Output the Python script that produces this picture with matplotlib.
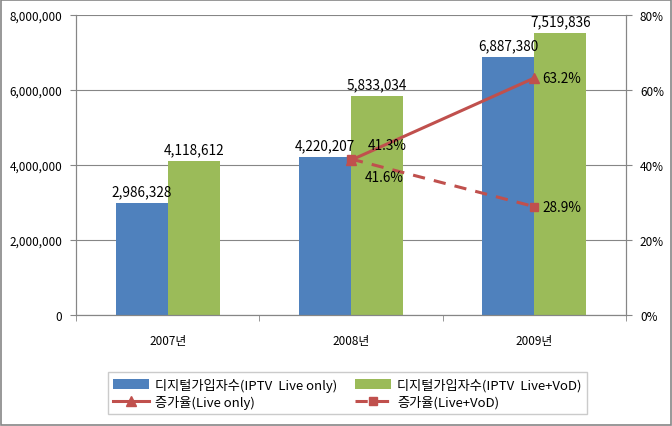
import numpy as np
import matplotlib
matplotlib.use("Agg")
import matplotlib.pyplot as plt
from matplotlib.ticker import FuncFormatter, FixedLocator

plt.rcParams['font.family'] = ['Noto Sans CJK KR', 'DejaVu Sans']

years = ["2007년", "2008년", "2009년"]
live_only = [2986328, 4220207, 6887380]
live_vod = [4118612, 5833034, 7519836]
rate_years = [1, 2]
rate_live = [41.3, 63.2]
rate_vod = [41.6, 28.9]

blue = "#4F81BD"
green = "#9BBB59"
red = "#C0504D"
grid_c = "#868686"

fig = plt.figure(figsize=(6.72, 4.27), dpi=100)
ax = fig.add_axes([76/672, 1 - 316/427, 550/672, 300/427])
ax2 = ax.twinx()

x = np.arange(len(years))
w = 0.284
b1 = ax.bar(x - w/2, live_only, w, color=blue, label="디지털가입자수(IPTV  Live only)", zorder=2)
b2 = ax.bar(x + w/2, live_vod, w, color=green, label="디지털가입자수(IPTV  Live+VoD)", zorder=2)
for rect, v in zip(b1, live_only):
    ax.text(rect.get_x() + rect.get_width()/2, v + 120000, f"{v:,}", ha="center", va="bottom", fontsize=9.8)
for rect, v in zip(b2, live_vod):
    ax.text(rect.get_x() + rect.get_width()/2, v + 120000, f"{v:,}", ha="center", va="bottom", fontsize=9.8)

ax.set_xlim(-0.5, 2.5)
ax.set_ylim(0, 8000000)
ax.set_yticks(np.arange(0, 8000001, 2000000))
ax.yaxis.set_major_formatter(FuncFormatter(lambda v, p: f"{int(v):,}"))
ax.set_xticks(x)
ax.set_xticklabels(years)
ax.xaxis.set_minor_locator(FixedLocator([-0.5, 0.5, 1.5, 2.5]))
ax.tick_params(axis="x", which="major", length=0, pad=14, labelsize=8.5)
ax.tick_params(axis="x", which="minor", length=4, color=grid_c)
ax.tick_params(axis="y", length=4, color=grid_c, labelsize=8.5, pad=6)
ax.grid(axis="y", color=grid_c, linewidth=0.8, zorder=0)
ax.set_axisbelow(True)
ax.spines["top"].set_visible(False)
ax2.spines["top"].set_visible(False)
for s in ["left", "bottom", "right"]:
    ax.spines[s].set_color(grid_c)
    ax2.spines[s].set_color(grid_c)

l1, = ax2.plot(rate_years, rate_live, color=red, lw=2.2, marker="^", ms=7, label="증가율(Live only)", zorder=3)
l2, = ax2.plot(rate_years, rate_vod, color=red, lw=2.2, ls=(0, (4, 3)), marker="s", ms=6, label="증가율(Live+VoD)", zorder=3)
ax2.set_ylim(0, 80)
ax2.set_yticks(np.arange(0, 81, 20))
ax2.yaxis.set_major_formatter(FuncFormatter(lambda v, p: f"{int(v)}%"))
ax2.tick_params(axis="y", length=4, color=grid_c, labelsize=8.5, pad=6)

ax2.annotate(f"{rate_live[0]}%", (rate_years[0], rate_live[0]), xytext=(12, 6), textcoords="offset points", ha="left", va="bottom", fontsize=9.8)
ax2.annotate(f"{rate_vod[0]}%", (rate_years[0], rate_vod[0]), xytext=(10, -8), textcoords="offset points", ha="left", va="top", fontsize=9.8)
ax2.annotate(f"{rate_live[1]}%", (rate_years[1], rate_live[1]), xytext=(6, 0), textcoords="offset points", ha="left", va="center", fontsize=9.8)
ax2.annotate(f"{rate_vod[1]}%", (rate_years[1], rate_vod[1]), xytext=(6, 0), textcoords="offset points", ha="left", va="center", fontsize=9.8)

# column-major fill: row1 = bars, row2 = lines
handles = [b1, l1, b2, l2]
fig.legend(handles, [h.get_label() for h in handles], loc="lower center", bbox_to_anchor=(0.517, 0.012),
           ncol=2, fontsize=9.5, frameon=True, fancybox=False, edgecolor="#BFBFBF",
           handlelength=2.7, columnspacing=1.3, handletextpad=0.5, borderpad=0.4, labelspacing=0.25)

fig.patches.append(plt.Rectangle((0.002, 0.002), 0.996, 0.996, transform=fig.transFigure,
                                 fill=False, edgecolor="#868686", linewidth=1.2))

fig.savefig("out.png", dpi=100)
